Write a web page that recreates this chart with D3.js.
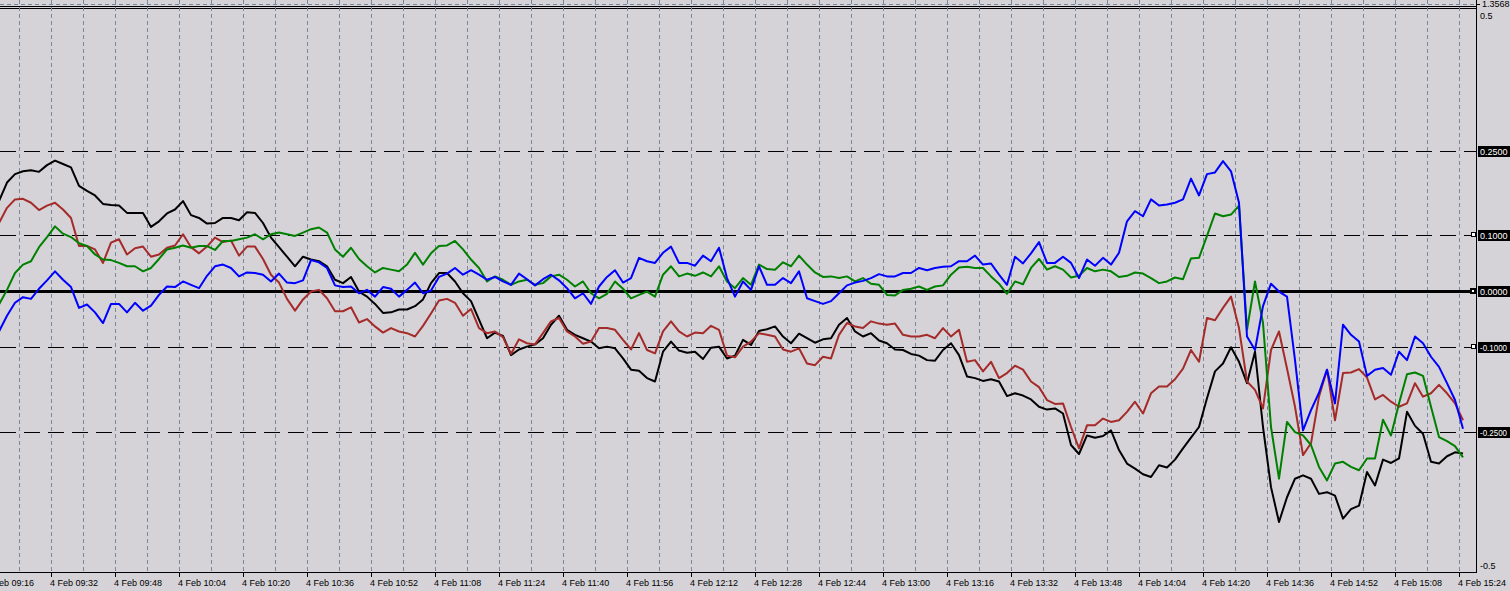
<!DOCTYPE html>
<html><head><meta charset="utf-8">
<script src="https://cdn.jsdelivr.net/npm/d3@7"></script>
<style>
html,body{margin:0;padding:0;background:#d5d3d7;overflow:hidden}
svg{display:block}
text{font-family:"Liberation Sans",Arial,sans-serif;font-size:9px}
</style>
</head><body>
<svg id="c" width="1510" height="591"></svg>
<script>
// ---------------- data ----------------
const dateLabel = "4 Feb";
const startTime = "09:19";
const endTime = "15:25";
const stepMinutes = 2;
const tickTimes = ["09:16","09:32","09:48","10:04","10:20","10:36","10:52","11:08","11:24","11:40","11:56","12:12",
                   "12:28","12:44","13:00","13:16","13:32","13:48","14:04","14:20","14:36","14:52","15:08","15:24"];
const levelValues = [0.25, 0.1, 0, -0.1, -0.25];
const levelLabels = ["0.2500", "0.1000", "0.0000", "-0.1000", "-0.2500"];
const markedLevels = [0.1, 0, -0.1];
const axisMaxLabel = "0.5";
const axisMinLabel = "-0.5";
const upperPanelLabel = "1.3568";

const blackSeries = [
 0.160,0.193,0.208,0.213,0.215,0.212,0.224,0.232,0.226,0.220,
 0.187,0.178,0.170,0.155,0.153,0.152,0.139,0.139,0.139,0.114,
 0.124,0.138,0.145,0.160,0.135,0.130,0.120,0.121,0.130,0.130,
 0.126,0.140,0.139,0.121,0.095,0.078,0.061,0.044,0.061,0.056,
 0.053,0.044,0.020,0.014,0.025,-0.001,-0.010,-0.023,-0.039,-0.038,
 -0.033,-0.033,-0.027,-0.015,0.014,0.032,0.032,0.017,-0.004,-0.018,
 -0.051,-0.084,-0.074,
 -0.080,-0.114,-0.104,-0.099,-0.095,-0.084,-0.060,-0.044,-0.069,-0.078,
 -0.084,-0.090,-0.102,-0.099,-0.102,-0.120,-0.140,-0.142,-0.155,-0.161,
 -0.108,-0.090,-0.106,-0.110,-0.108,-0.121,-0.101,-0.099,-0.120,-0.115,
 -0.087,-0.096,-0.071,-0.068,-0.063,-0.081,-0.093,-0.076,-0.084,-0.092,
 -0.086,-0.084,-0.060,-0.048,-0.072,-0.081,-0.075,-0.088,-0.093,-0.104,
 -0.105,-0.112,-0.115,-0.123,-0.124,-0.105,-0.093,-0.114,-0.152,-0.155,
 -0.160,
 -0.157,-0.161,-0.187,-0.182,-0.186,-0.193,-0.206,-0.211,-0.209,-0.218,
 -0.274,-0.290,-0.257,-0.261,-0.258,-0.248,-0.283,-0.307,-0.316,-0.326,
 -0.331,-0.310,-0.314,-0.300,-0.280,-0.261,-0.242,-0.191,-0.143,-0.129,
 -0.100,-0.126,-0.164,-0.108,-0.242,-0.349,-0.411,-0.367,-0.334,-0.328,
 -0.334,-0.361,-0.358,-0.364,-0.405,-0.388,-0.382,-0.322,-0.346,-0.300,
 -0.306,-0.298,-0.215,-0.240,-0.254,-0.304,-0.307,-0.294,-0.287,-0.289
];
const redSeries = [
 0.121,0.148,0.163,0.164,0.157,0.144,0.152,0.157,0.145,0.130,
 0.080,0.080,0.074,0.050,0.086,0.092,0.065,0.076,0.079,0.061,
 0.065,0.077,0.081,0.101,0.078,0.067,0.079,0.095,0.087,0.090,
 0.063,0.079,0.079,0.057,0.029,0.015,-0.014,-0.035,-0.015,-0.001,
 0.002,-0.013,-0.036,-0.036,-0.029,-0.056,-0.050,-0.063,-0.074,-0.066,
 -0.072,-0.075,-0.081,-0.062,-0.040,-0.017,-0.014,-0.021,-0.044,-0.032,
 -0.066,-0.075,-0.072,
 -0.082,-0.112,-0.086,-0.093,-0.095,-0.075,-0.054,-0.048,-0.072,-0.081,
 -0.094,-0.090,-0.066,-0.066,-0.069,-0.087,-0.104,-0.075,-0.105,-0.111,
 -0.072,-0.054,-0.072,-0.081,-0.074,-0.075,-0.062,-0.069,-0.115,-0.118,
 -0.099,-0.090,-0.075,-0.078,-0.081,-0.104,-0.108,-0.102,-0.129,-0.132,
 -0.117,-0.120,-0.078,-0.057,-0.063,-0.066,-0.054,-0.058,-0.060,-0.058,
 -0.078,-0.081,-0.081,-0.078,-0.084,-0.066,-0.081,-0.069,-0.126,-0.123,
 -0.143,
 -0.126,-0.155,-0.146,-0.133,-0.140,-0.161,-0.171,-0.194,-0.201,-0.200,
 -0.242,-0.280,-0.239,-0.239,-0.227,-0.233,-0.230,-0.215,-0.197,-0.218,
 -0.182,-0.170,-0.170,-0.157,-0.138,-0.105,-0.126,-0.048,-0.052,-0.030,
 -0.010,-0.066,-0.161,-0.176,-0.209,-0.105,-0.072,-0.138,-0.206,-0.292,
 -0.271,-0.188,-0.140,-0.230,-0.146,-0.145,-0.139,-0.154,-0.193,-0.185,
 -0.197,-0.206,-0.200,-0.164,-0.188,-0.182,-0.167,-0.182,-0.200,-0.230
];
const greenSeries = [
 -0.024,0.002,0.032,0.047,0.053,0.078,0.096,0.115,0.102,0.096,
 0.085,0.080,0.065,0.056,0.055,0.050,0.044,0.044,0.035,0.041,
 0.057,0.074,0.077,0.081,0.077,0.080,0.080,0.073,0.089,0.089,
 0.092,0.095,0.101,0.092,0.101,0.104,0.101,0.098,0.104,0.110,
 0.113,0.104,0.074,0.061,0.077,0.057,0.044,0.033,0.041,0.038,
 0.035,0.047,0.068,0.047,0.067,0.080,0.081,0.089,0.074,0.056,
 0.041,0.017,0.026,
 0.020,0.011,0.017,0.020,0.011,0.014,0.026,0.029,0.020,0.008,
 0.017,-0.004,-0.013,-0.005,0.017,0.004,-0.013,-0.007,-0.001,-0.010,
 0.029,0.044,0.026,0.031,0.027,0.033,0.026,0.044,0.017,0.005,
 0.023,0.011,0.047,0.039,0.038,0.051,0.044,0.063,0.047,0.033,
 0.025,0.026,0.023,0.026,0.017,0.023,0.013,0.011,-0.007,-0.008,
 0.002,0.004,0.008,0.002,0.008,0.010,0.029,0.042,0.043,0.041,
 0.041,
 0.026,0.013,-0.005,0.017,0.012,0.041,0.057,0.038,0.044,0.038,
 0.024,0.027,0.041,0.035,0.038,0.035,0.025,0.027,0.033,0.031,
 0.023,0.014,0.017,0.024,0.021,0.058,0.059,0.098,0.138,0.133,
 0.136,0.152,-0.069,0.017,-0.057,-0.242,-0.334,-0.233,-0.251,-0.257,
 -0.274,-0.313,-0.337,-0.307,-0.304,-0.313,-0.319,-0.298,-0.298,-0.229,
 -0.257,-0.200,-0.148,-0.145,-0.151,-0.206,-0.260,-0.267,-0.276,-0.296
];
const blueSeries = [
 -0.072,-0.044,-0.021,-0.011,-0.014,0.004,0.019,0.035,0.020,0.007,
 -0.030,-0.024,-0.038,-0.057,-0.023,-0.023,-0.038,-0.021,-0.035,-0.026,
 -0.007,0.008,0.007,0.017,0.011,0.005,0.027,0.044,0.047,0.041,
 0.026,0.033,0.032,0.029,0.017,0.031,0.015,0.014,0.019,0.055,
 0.051,0.041,0.010,0.007,0.008,-0.004,0.002,-0.010,0.007,0.004,
 -0.010,0.002,0.015,-0.004,0.001,0.025,0.031,0.041,0.029,0.037,
 0.029,0.020,0.025,
 0.017,0.011,0.031,0.021,0.010,0.021,0.029,0.019,0.005,-0.013,
 -0.004,-0.023,0.008,0.025,0.037,0.015,0.023,0.059,0.053,0.050,
 0.068,0.079,0.050,0.050,0.045,0.063,0.053,0.077,0.023,-0.010,
 0.017,0.002,0.044,0.011,0.011,0.023,0.014,0.035,-0.013,-0.018,
 -0.023,-0.018,-0.004,0.010,0.015,0.018,0.023,0.030,0.026,0.026,
 0.032,0.032,0.041,0.037,0.041,0.043,0.044,0.053,0.053,0.063,
 0.047,
 0.049,0.029,0.011,0.061,0.049,0.067,0.087,0.050,0.050,0.061,
 0.050,0.023,0.056,0.045,0.059,0.047,0.068,0.124,0.142,0.133,
 0.163,0.152,0.154,0.157,0.163,0.200,0.170,0.208,0.211,0.231,
 0.213,0.157,-0.081,-0.105,-0.027,0.013,-0.001,-0.010,-0.123,-0.248,
 -0.212,-0.181,-0.140,-0.200,-0.060,-0.078,-0.090,-0.151,-0.140,-0.137,
 -0.149,-0.108,-0.123,-0.081,-0.093,-0.117,-0.135,-0.164,-0.194,-0.245
];
const seriesList = [
  {name: "black", values: blackSeries, color: "#000000"},
  {name: "red",   values: redSeries,   color: "#a52a2a"},
  {name: "green", values: greenSeries, color: "#008000"},
  {name: "blue",  values: blueSeries,  color: "#0000ff"}
];

// ---------------- layout ----------------
const W = 1510, H = 591;
const plotRight = 1476, plotTop = 8, plotBottom = 572;
const bg = "#d5d3d7", gridColor = "#778899";

const parse = d3.timeParse("%H:%M");
const t0 = parse(startTime);
const x = d3.scaleTime().domain([t0, parse(endTime)]).range([-1, 1463]);
const y = d3.scaleLinear().domain([-0.5, 0.5]).range([572, 10]);
const px = v => Math.round(v) + 0.5;

const svg = d3.select("#c");
svg.append("rect").attr("width", W).attr("height", H).attr("fill", bg);

svg.append("defs").append("clipPath").attr("id", "plot")
  .append("rect").attr("x", 0).attr("y", plotTop + 1).attr("width", plotRight).attr("height", plotBottom - plotTop - 1);

// upper panel remnant
svg.append("line").attr("x1", 0).attr("x2", plotRight).attr("y1", 4.5).attr("y2", 4.5)
  .attr("stroke", gridColor).attr("stroke-dasharray", "4,3");
svg.append("line").attr("x1", 0).attr("x2", plotRight).attr("y1", 6.5).attr("y2", 6.5).attr("stroke", "#000");
svg.append("line").attr("x1", 0).attr("x2", plotRight).attr("y1", 8.5).attr("y2", 8.5).attr("stroke", "#000");
svg.append("line").attr("x1", plotRight + 0.5).attr("x2", plotRight + 4).attr("y1", 4.5).attr("y2", 4.5).attr("stroke", "#000");
svg.append("text").attr("x", 1482).attr("y", 6.5).attr("fill", "#000").text(upperPanelLabel);

// vertical grid (every 8 minutes)
const tickDates = tickTimes.map(parse);
const gridDates = [];
for (let d = tickDates[0]; d <= tickDates[tickDates.length - 1]; d = d3.timeMinute.offset(d, 8)) gridDates.push(d);
svg.append("g").selectAll("line").data(gridDates.filter(d => x(d) >= 0 && x(d) < plotRight)).join("line")
  .attr("x1", d => px(x(d))).attr("x2", d => px(x(d)))
  .attr("y1", 0).attr("y2", plotBottom)
  .attr("stroke", gridColor).attr("stroke-dasharray", "4,3");

// levels
const lv = svg.append("g");
lv.selectAll("line").data(levelValues.filter(v => v !== 0)).join("line")
  .attr("x1", 0).attr("x2", plotRight).attr("y1", d => px(y(d))).attr("y2", d => px(y(d)))
  .attr("stroke", "#000").attr("stroke-dasharray", "16,8");
lv.append("line").attr("x1", 0).attr("x2", plotRight).attr("y1", px(y(0))).attr("y2", px(y(0)))
  .attr("stroke", "#000").attr("stroke-width", 3);

// series
const line = d3.line()
  .x((d, i) => x(d3.timeMinute.offset(t0, i * stepMinutes)))
  .y(d => y(d));
svg.append("g").attr("clip-path", "url(#plot)")
  .selectAll("path").data(seriesList).join("path")
  .attr("d", s => line(s.values))
  .attr("fill", "none").attr("stroke", s => s.color).attr("stroke-width", 2)
  .attr("stroke-linejoin", "round");

// markers at level ends
const mk = svg.append("g");
markedLevels.forEach(v => {
  const yy = Math.round(y(v));
  if (v === 0) {
    mk.append("rect").attr("x", 1470).attr("y", yy - 3).attr("width", 6).attr("height", 6).attr("fill", "#000");
    mk.append("rect").attr("x", 1472).attr("y", yy - 1).attr("width", 2).attr("height", 2).attr("fill", "#fff");
  } else {
    mk.append("rect").attr("x", 1471.5).attr("y", yy - 2.5).attr("width", 4).attr("height", 4)
      .attr("fill", "#fff").attr("stroke", "#000");
  }
});

// axes
svg.append("line").attr("x1", plotRight + 0.5).attr("x2", plotRight + 0.5).attr("y1", 0).attr("y2", plotBottom + 1).attr("stroke", "#000");
svg.append("line").attr("x1", 0).attr("x2", plotRight + 1).attr("y1", plotBottom + 0.5).attr("y2", plotBottom + 0.5).attr("stroke", "#000");

const xAxis = svg.append("g");
xAxis.selectAll("line").data(tickDates).join("line")
  .attr("x1", d => px(x(d))).attr("x2", d => px(x(d)))
  .attr("y1", plotBottom + 1).attr("y2", plotBottom + 5).attr("stroke", "#000");
xAxis.selectAll("text").data(tickDates).join("text")
  .attr("x", d => Math.round(x(d)) - 1).attr("y", 586)
  .attr("fill", "#000")
  .text((d, i) => dateLabel + " " + tickTimes[i]);

// right axis labels
svg.append("text").attr("x", 1480).attr("y", 19).attr("fill", "#000").text(axisMaxLabel);
svg.append("text").attr("x", 1480).attr("y", 569).attr("fill", "#000").text(axisMinLabel);

const ll = svg.append("g");
levelValues.forEach((v, i) => {
  const yy = Math.round(y(v));
  ll.append("rect").attr("x", 1478).attr("y", yy - 5).attr("width", 32).attr("height", 11).attr("fill", "#000");
  const t = ll.append("text").attr("x", 1480).attr("y", yy + 4).attr("fill", "#fff").text(levelLabels[i]);
  if (levelLabels[i].length > 6) t.attr("font-size", "8px").attr("textLength", 27).attr("lengthAdjust", "spacingAndGlyphs");
});
</script>
</body></html>
